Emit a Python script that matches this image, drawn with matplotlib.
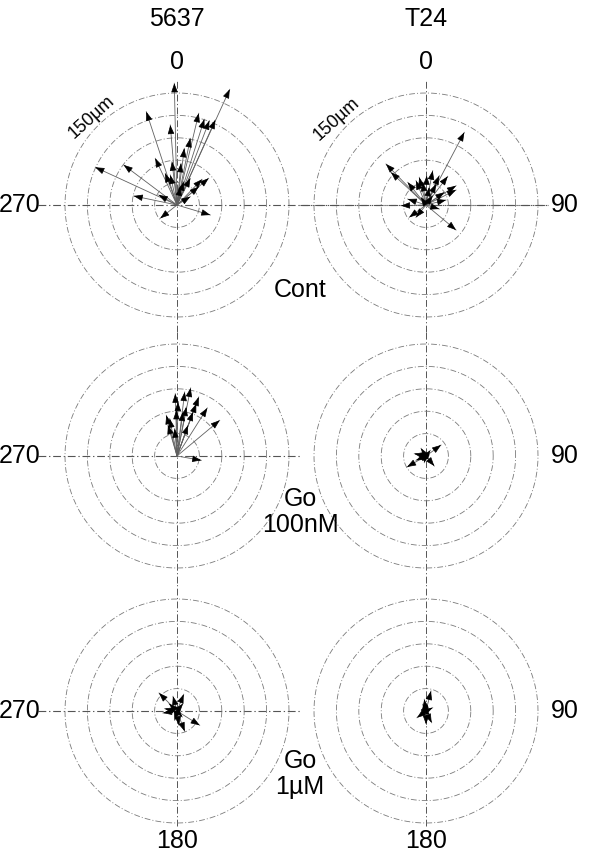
import matplotlib
matplotlib.use("Agg")
import matplotlib.pyplot as plt
import numpy as np

plt.rcParams['font.family'] = ['Liberation Sans', 'DejaVu Sans']

# ---- data: arrow end points (dx, dy) in µm, origin = start point ----
cont_5637_dx = [-3.6, 70.6, -41.1, 29.1, 36.6, 43.3, 51.3, -9.0, 17.8, 9.8, -29.1, -109.4, -71.4, -15.7, -9.0, 17.8, 33.5, 42.4, 29.1, 9.0, -58.0, -24.5, -22.4, 44.6, 17.8, -6.7, 4.4, 5.4]
cont_5637_dy = [163.0, 154.9, 124.9, 122.8, 114.8, 112.9, 113.8, 107.1, 89.3, 75.9, 62.5, 50.5, 53.6, 42.4, 40.2, 35.8, 34.4, 35.8, 24.5, 31.2, 12.1, 13.4, -17.8, -13.4, 11.1, 58.0, 24.5, 55.8]
cont_t24_dx = [51.3, -53.6, -46.9, -24.5, -13.4, -9.0, 0.9, 9.0, 17.8, 29.1, 40.2, 40.2, 26.8, -24.5, -33.5, -22.4, -13.4, 40.2, 17.8, 13.4, 4.4, -4.4, 24.5, -6.7, 9.0]
cont_t24_dy = [97.3, 54.9, 43.8, 30.4, 32.5, 37.1, 39.2, 45.9, 39.2, 38.4, 25.8, 20.1, 6.7, 8.0, -0.9, -16.5, -16.5, -33.5, -5.4, 28.1, 23.7, 30.4, 17.0, 10.3, 12.5]
go100_5637_dx = [-2.3, 10.3, 18.3, 29.1, 25.8, 40.6, 57.2, -14.3, -9.8, -0.9, 12.5, 8.0, 21.4, -12.1, -3.1, 32.5, 14.7, 1.3]
go100_5637_dy = [83.4, 85.7, 91.1, 79.0, 70.0, 64.3, 47.8, 54.5, 50.0, 61.2, 65.6, 58.9, 58.9, 41.1, 36.6, -5.8, 41.1, 72.3]
go100_t24_dx = [20.1, -25.4, 11.1, -15.7, -6.7, 5.8, -13.4, -2.3, 4.4, -9.0]
go100_t24_dy = [14.7, -14.7, -13.4, 3.1, 10.3, 7.6, -5.8, -9.0, 2.3, -1.3]
go1u_5637_dx = [-24.1, 9.0, -5.4, 30.4, 10.3, 2.7, 8.0, -18.8, -10.7, -16.5, 7.1, -3.1]
go1u_5637_dy = [24.1, 22.4, 19.7, -19.1, -27.2, -19.1, 9.8, -2.7, 9.8, 3.1, -8.0, -12.5]
go1u_t24_dx = [6.7, -2.3, -4.4, 9.0, 0.0, 7.6, -12.1, 4.4, 2.0]
go1u_t24_dy = [26.8, 15.7, 9.0, 4.4, -17.8, -15.7, -9.0, -4.4, 8.0]

col_labels = ["5637", "T24"]
row_labels = ["Cont", "Go\n100nM", "Go\n1µM"]
circle_radii = [30, 60, 90, 120, 150]
scale_label = "150µm"

panels = [
    [(cont_5637_dx, cont_5637_dy), (cont_t24_dx, cont_t24_dy)],
    [(go100_5637_dx, go100_5637_dy), (go100_t24_dx, go100_t24_dy)],
    [(go1u_5637_dx, go1u_5637_dy), (go1u_t24_dx, go1u_t24_dy)],
]

W, H = 590, 861
fig = plt.figure(figsize=(W / 100, H / 100), dpi=100)
fig.patch.set_facecolor('white')

cxs = [177, 426]
cys = [205, 456, 711]
R_PX = 112.0
HALF = 140.0
k = 150.0 / R_PX  # µm per px

def fx(x):
    return x / W

def fy(y):
    return 1 - y / H

grid_col = '#7a7a7a'
axis_col = '#555555'
dash = (0, (7, 2.5, 1.2, 2.5))
FS = 18
HEAD = 8.0  # head length in µm (for head-only segment)

for r, cy in enumerate(cys):
    for c, cx in enumerate(cxs):
        ax = fig.add_axes([(cx - HALF) / W, (H - cy - HALF) / H, 2 * HALF / W, 2 * HALF / H])
        lim = HALF * k
        ax.set_xlim(-lim, lim)
        ax.set_ylim(-lim, lim)
        ax.axis('off')
        ax.patch.set_alpha(0)
        th = np.linspace(0, 2 * np.pi, 400)
        for rad in circle_radii:
            ax.plot(rad * np.cos(th), rad * np.sin(th), color=grid_col, lw=0.6,
                    linestyle=dash, clip_on=False)
        # vertical crosshair
        top = (cy - 80) * k if r == 0 else 170
        bot = -(826 - cy) * k if r == 2 else -170
        ax.plot([0, 0], [bot, top], color=axis_col, lw=0.7, linestyle=dash, clip_on=False, zorder=1)
        # horizontal crosshair
        if c == 0:
            right = (548 - cx) * k if r == 0 else (302 - cx) * k
            ax.plot([-(cx - 38) * k, right], [0, 0], color=axis_col, lw=0.8,
                    linestyle=dash, clip_on=False, zorder=1)
        elif r == 0:
            ax.plot([-(cx - 300) * k, (548 - cx) * k], [0, 0], color=axis_col, lw=0.8,
                    linestyle=dash, clip_on=False, zorder=1)
        dxs, dys = panels[r][c]
        for dx, dy in zip(dxs, dys):
            L = np.hypot(dx, dy)
            ux, uy = dx / L, dy / L
            ax.plot([0, dx], [0, dy], color='#606060', lw=0.6, zorder=2)
            back = min(HEAD, L)
            ax.annotate('', xy=(dx, dy), xytext=(dx - ux * back, dy - uy * back),
                        arrowprops=dict(arrowstyle='-|>,head_length=0.55,head_width=0.2',
                                        color='black', lw=0.5, shrinkA=0, shrinkB=0),
                        annotation_clip=False, zorder=3)

# column titles and angle labels
for c, cx in enumerate(cxs):
    fig.text(fx(cx), fy(19), col_labels[c], ha='center', va='center', fontsize=FS)
    fig.text(fx(cx), fy(62), "0", ha='center', va='center', fontsize=FS)
    fig.text(fx(cx), fy(841), "180", ha='center', va='center', fontsize=FS)
for cy in cys:
    fig.text(fx(20), fy(cy), "270", ha='center', va='center', fontsize=FS)
    fig.text(fx(565), fy(cy), "90", ha='center', va='center', fontsize=FS)

fig.text(fx(300), fy(290), row_labels[0], ha='center', va='center', fontsize=FS)
fig.text(fx(300), fy(512), row_labels[1], ha='center', va='center', fontsize=FS, linespacing=1.15)
fig.text(fx(300), fy(774), row_labels[2], ha='center', va='center', fontsize=FS, linespacing=1.15)

for x, y in [(92, 117), (337, 119)]:
    fig.text(fx(x), fy(y), scale_label, ha='center', va='center', fontsize=13, rotation=42)

fig.savefig('out.png', dpi=100, facecolor='white')
